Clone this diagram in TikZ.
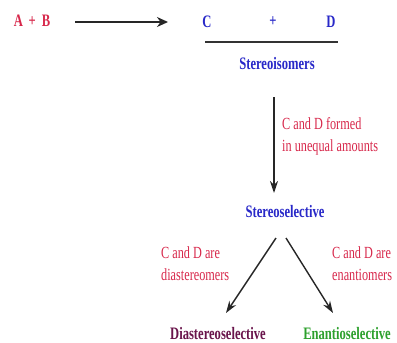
\documentclass[tikz,border=0pt]{standalone}
\usepackage{fontspec}
\setmainfont{Liberation Serif}[FakeStretch=0.72]
\usetikzlibrary{arrows.meta}
\definecolor{cred}{RGB}{215,40,75}
\definecolor{cblue}{RGB}{40,40,200}
\definecolor{cpurple}{RGB}{105,20,75}
\definecolor{cgreen}{RGB}{45,160,45}
\tikzset{
  x=1pt,y=-1pt,
  title/.style={font=\fontsize{17.5}{19}\selectfont\bfseries, inner sep=0pt},
  lbl/.style={font=\fontsize{17}{22}\selectfont, text=cred, align=left, inner sep=0pt},
  arr/.style={-{Stealth[length=12pt,width=8pt]}, line width=1.4pt, black!85},
}
\begin{document}
\begin{tikzpicture}
\useasboundingbox (0,0) rectangle (397,343);
\node[title, text=cred] (ab) at (32,21) {A\,\,+\,\,B};
\coordinate (a1) at (75,22);
\coordinate (a2) at (168,22);
\draw[arr, line width=1.8pt, -{Stealth[length=11pt,width=10pt]}] (a1) -- (a2);
\node[title, text=cblue] (c) at (207,22) {C};
\node[title, text=cblue] (plus) at (273,22) {+};
\node[title, text=cblue] (d) at (331,22) {D};
\coordinate (l1) at (205,42);
\coordinate (l2) at (338,42);
\draw[line width=1.8pt, black!80] (l1) -- (l2);
\node[title, text=cblue] (iso) at (277,64) {Stereoisomers};
\node[title, text=cblue] (sel) at (285,212) {Stereoselective};
\coordinate (v1) at (274,97);
\coordinate (v2) at (274,193);
\draw[arr] (v1) -- (v2);
\node[lbl, anchor=west] (unq) at (282,136) {C and D formed\\in unequal amounts};
\coordinate (d1) at (276,238);
\coordinate (d2) at (226,313);
\coordinate (e1) at (286,238);
\coordinate (e2) at (333,313);
\draw[arr] (d1) -- (d2);
\draw[arr] (e1) -- (e2);
\node[lbl, anchor=west] (dl) at (161,264) {C and D are\\diastereomers};
\node[lbl, anchor=west] (el) at (332,264) {C and D are\\enantiomers};
\node[title, text=cpurple] (dia) at (218,334) {Diastereoselective};
\node[title, text=cgreen] (ena) at (347,334) {Enantioselective};
\end{tikzpicture}
\end{document}
